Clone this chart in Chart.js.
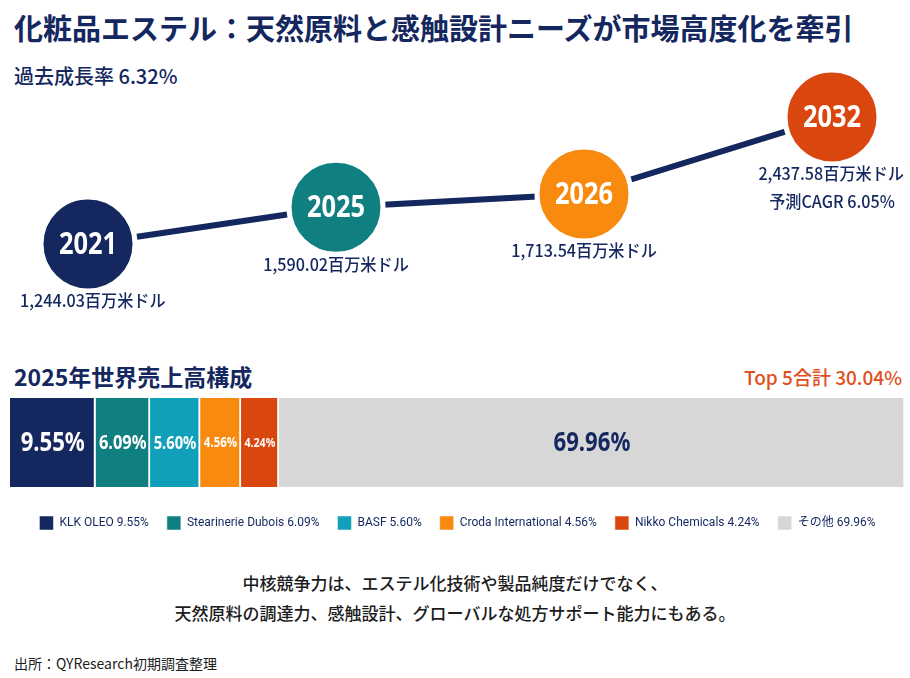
<!DOCTYPE html>
<html lang="ja">
<head>
<meta charset="utf-8">
<title>化粧品エステル市場</title>
<script src="https://cdn.jsdelivr.net/npm/chart.js@4.4.1/dist/chart.umd.min.js"></script>
<style>
  body { margin: 0; background: #fff; font-family: "Noto Sans CJK JP", "Noto Sans", sans-serif; color: #14275e; }
  #page { position: relative; width: 910px; height: 678px; overflow: hidden; }
  .t { position: absolute; white-space: nowrap; line-height: 1; }
  .box { position: absolute; left: 0; width: 910px; }
</style>
</head>
<body>
<div id="page">
  <div class="t" style="left:14px;top:13px;font-size:29px;font-weight:700;">化粧品エステル：天然原料と感触設計ニーズが市場高度化を牽引</div>
  <div class="t" style="left:14px;top:66px;font-size:20px;font-weight:500;">過去成長率 6.32%</div>

  <div class="box" style="top:60px;height:280px;"><canvas id="timeline"></canvas></div>

  <div class="t" style="left:14px;top:365px;font-size:23px;font-weight:700;">2025年世界売上高構成</div>
  <div class="t" style="right:8px;top:367px;font-size:19px;font-weight:500;color:#e0501a;">Top 5合計 30.04%</div>

  <div class="box" style="top:381px;height:159px;"><canvas id="share"></canvas></div>

  <div class="t" style="left:0;width:910px;text-align:center;top:574px;font-size:17px;font-weight:500;color:#1c1c1c;">中核競争力は、エステル化技術や製品純度だけでなく、</div>
  <div class="t" style="left:0;width:910px;text-align:center;top:604px;font-size:17px;font-weight:500;color:#1c1c1c;">天然原料の調達力、感触設計、グローバルな処方サポート能力にもある。</div>
  <div class="t" style="left:14px;top:656px;font-size:14px;color:#1c1c1c;">出所：QYResearch初期調査整理</div>
</div>

<script>
// market size timeline (million USD)
var years = ['2021', '2025', '2026', '2032'];
var marketValues = [1244.03, 1590.02, 1713.54, 2437.58];
var valueNotes = ['', '', '', '予測CAGR 6.05%'];

// 2025 global sales share (%)
var companies = ['KLK OLEO', 'Stearinerie Dubois', 'BASF', 'Croda International', 'Nikko Chemicals', 'その他'];
var shares = [9.55, 6.09, 5.60, 4.56, 4.24, 69.96];

var navy = '#14275e';
var yearColors = [navy, '#0f7f80', '#f88a0f', '#d9470f'];
var shareColors = [navy, '#0f7f80', '#10a0b9', '#f88a0f', '#d9470f', '#d7d7d7'];
var latin = '"Noto Sans", sans-serif';
var cjk = '"Noto Sans CJK JP", "Noto Sans", sans-serif';

function money(v) {
  return v.toLocaleString('en-US', { minimumFractionDigits: 2, maximumFractionDigits: 2 }) + '百万米ドル';
}

// draw text squeezed horizontally to look like a condensed face
function narrowText(ctx, s, x, y, squeeze) {
  ctx.save();
  ctx.translate(x, y);
  ctx.scale(squeeze, 1);
  ctx.fillText(s, 0, 0);
  ctx.restore();
}

// year inside each circle, value text below it
var timelineLabels = {
  id: 'timelineLabels',
  afterDatasetsDraw: function(chart) {
    var ctx = chart.ctx;
    var pts = chart.getDatasetMeta(0).data;
    ctx.save();
    ctx.textAlign = 'center';
    ctx.textBaseline = 'middle';
    pts.forEach(function(p, i) {
      ctx.fillStyle = '#fff';
      ctx.font = 'bold 31px ' + latin;
      narrowText(ctx, years[i], p.x, p.y + 1, 0.82);

      ctx.fillStyle = navy;
      ctx.font = '500 17px ' + cjk;
      var lines = [money(marketValues[i])];
      if (valueNotes[i]) lines.push(valueNotes[i]);
      lines.forEach(function(s, j) {
        var w = ctx.measureText(s).width * 0.95;
        var x = p.x;
        if (x - w / 2 < 20) x = 20 + w / 2;
        if (x + w / 2 > chart.width - 6) x = chart.width - 6 - w / 2;
        narrowText(ctx, s, x, p.y + 57 + j * 28, 0.95);
      });
    });
    ctx.restore();
  }
};

new Chart(document.getElementById('timeline'), {
  type: 'line',
  data: {
    labels: years,
    datasets: [{
      data: marketValues,
      borderColor: navy,
      borderWidth: 6,
      tension: 0,
      clip: false,
      pointRadius: 47,
      pointHoverRadius: 47,
      pointBackgroundColor: yearColors,
      pointBorderColor: '#fff',
      pointBorderWidth: 5
    }]
  },
  options: {
    responsive: true,
    maintainAspectRatio: false,
    animation: false,
    events: [],
    layout: { padding: { left: 88, right: 78, top: 0, bottom: 0 } },
    scales: {
      x: { display: false },
      y: { display: false, min: 830, max: 2485 }
    },
    plugins: { legend: { display: false }, tooltip: { enabled: false } }
  },
  plugins: [timelineLabels]
});

// percentage inside each segment, shrunk to fit its width
var shareLabels = {
  id: 'shareLabels',
  afterDatasetsDraw: function(chart) {
    var ctx = chart.ctx;
    ctx.save();
    ctx.textAlign = 'center';
    ctx.textBaseline = 'middle';
    chart.data.datasets.forEach(function(ds, i) {
      var el = chart.getDatasetMeta(i).data[0];
      var w = Math.abs(el.x - el.base);
      var s = shares[i].toFixed(2) + '%';
      var size = 27;
      ctx.font = 'bold ' + size + 'px ' + latin;
      while (size > 9 && ctx.measureText(s).width * 0.82 > w - 6) {
        size--;
        ctx.font = 'bold ' + size + 'px ' + latin;
      }
      ctx.fillStyle = i === shares.length - 1 ? navy : '#fff';
      narrowText(ctx, s, (el.x + el.base) / 2, el.y + 1, 0.82);
    });
    ctx.restore();
  }
};

new Chart(document.getElementById('share'), {
  type: 'bar',
  data: {
    labels: ['2025'],
    datasets: companies.map(function(c, i) {
      return {
        label: c + ' ' + shares[i].toFixed(2) + '%',
        data: [shares[i]],
        backgroundColor: shareColors[i],
        borderColor: '#fff',
        borderWidth: { left: 0, right: 2, top: 0, bottom: 0 },
        borderSkipped: false,
        barThickness: 89
      };
    })
  },
  options: {
    indexAxis: 'y',
    responsive: true,
    maintainAspectRatio: false,
    animation: false,
    events: [],
    layout: { padding: { left: 10, right: 5, top: 6, bottom: 0 } },
    scales: {
      x: { stacked: true, min: 0, max: 100, display: false },
      y: { stacked: true, display: false }
    },
    plugins: {
      legend: {
        position: 'bottom',
        labels: {
          boxWidth: 14,
          boxHeight: 14,
          padding: 18,
          color: navy,
          font: { family: 'Roboto, "Noto Sans CJK JP", sans-serif', size: 12 }
        }
      },
      tooltip: { enabled: false }
    }
  },
  plugins: [shareLabels]
});
</script>
</body>
</html>
